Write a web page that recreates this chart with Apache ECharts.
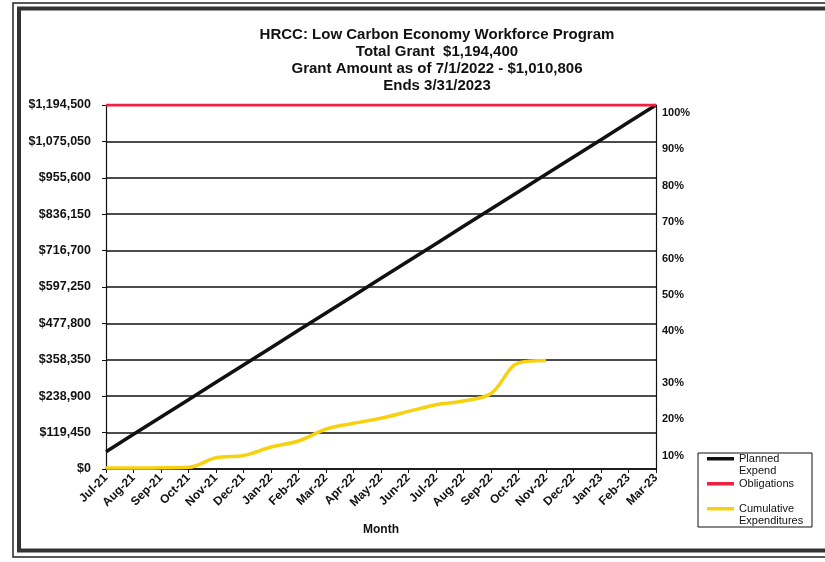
<!DOCTYPE html>
<html>
<head>
<meta charset="utf-8">
<script src="https://cdn.jsdelivr.net/npm/echarts@6/dist/echarts.min.js"></script>
<style>
  html, body { margin: 0; padding: 0; background: #fff; }
  #chart { width: 825px; height: 562px; }
</style>
</head>
<body>
<div id="chart"></div>
<script>
// ---- data ----
const months = ['Jul-21','Aug-21','Sep-21','Oct-21','Nov-21','Dec-21','Jan-22','Feb-22','Mar-22','Apr-22','May-22','Jun-22','Jul-22','Aug-22','Sep-22','Oct-22','Nov-22','Dec-22','Jan-23','Feb-23','Mar-23'];
const plannedExpend = [56881, 113762, 170643, 227524, 284405, 341286, 398167, 455048, 511929, 568810, 625690, 682571, 739452, 796333, 853214, 910095, 966976, 1023857, 1080738, 1137619, 1194500];
const obligations = [1194500, 1194500, 1194500, 1194500, 1194500, 1194500, 1194500, 1194500, 1194500, 1194500, 1194500, 1194500, 1194500, 1194500, 1194500, 1194500, 1194500, 1194500, 1194500, 1194500, 1194500];
const cumulativeExpenditures = [3000, 3000, 4000, 5500, 36700, 44400, 72000, 92000, 131000, 150000, 166600, 189000, 211000, 223000, 247700, 348000, 356000];
const leftTickLabels = ['$0','$119,450','$238,900','$358,350','$477,800','$597,250','$716,700','$836,150','$955,600','$1,075,050','$1,194,500'];
const rightTickLabels = ['', '10%', '20%', '30%', '40%', '50%', '60%', '70%', '80%', '90%', '100%'];
const axisMax = 1194500;
const axisStep = 119450;
const seriesNames = ['Planned Expend', 'Obligations', 'Cumulative Expenditures'];
const titleText = 'HRCC: Low Carbon Economy Workforce Program\nTotal Grant  $1,194,400\nGrant Amount as of 7/1/2022 - $1,010,806\nEnds 3/31/2023';

const FONT = '"Liberation Sans", Arial, sans-serif';
const chart = echarts.init(document.getElementById('chart'), null, { renderer: 'canvas' });

chart.setOption({
  backgroundColor: '#ffffff',
  animation: false,
  title: {
    text: titleText,
    left: 432,
    top: 21,
    textAlign: 'center',
    textStyle: { fontFamily: FONT, fontSize: 15, fontWeight: 'bold', color: '#111', lineHeight: 17 }
  },
  graphic: [
    { type: 'rect', shape: { x: 13, y: 3, width: 830, height: 554 }, style: { fill: 'none', stroke: '#222', lineWidth: 1.5 }, silent: true },
    { type: 'rect', shape: { x: 19, y: 8.5, width: 830, height: 542 }, style: { fill: 'none', stroke: '#333', lineWidth: 4 }, silent: true },
    { type: 'rect', shape: { x: 698, y: 453, width: 114, height: 74 }, style: { fill: 'none', stroke: '#111', lineWidth: 1 }, silent: true }
  ],
  legend: {
    orient: 'vertical',
    left: 707,
    top: 440,
    padding: 0,
    itemGap: 0,
    icon: 'rect',
    itemWidth: 27,
    itemHeight: 3.5,
    data: seriesNames,
    formatter: function (name) {
      const parts = name.split(' ');
      return parts.length > 1 ? ' \n' + parts.join('\n') : name;
    },
    textStyle: { fontFamily: FONT, fontSize: 11, color: '#111', lineHeight: 12.5 }
  },
  grid: { left: 106, right: 169, top: 105, bottom: 93, containLabel: false },
  xAxis: {
    type: 'category',
    data: months,
    boundaryGap: false,
    name: 'Month',
    nameLocation: 'middle',
    nameGap: 55,
    nameTextStyle: { fontFamily: FONT, fontSize: 12, fontWeight: 'bold', color: '#111' },
    axisLine: { show: true, lineStyle: { color: '#111', width: 1.5 } },
    axisTick: { show: true, interval: 0, length: 4, lineStyle: { color: '#111' } },
    axisLabel: { interval: 0, rotate: 45, margin: 7, fontFamily: FONT, fontSize: 12, fontWeight: 'bold', color: '#111' },
    splitLine: { show: false }
  },
  yAxis: [
    {
      type: 'value',
      min: 0,
      max: axisMax,
      interval: axisStep,
      position: 'left',
      axisLine: { show: true, lineStyle: { color: '#111', width: 1.2 } },
      axisTick: { show: true, length: 4, lineStyle: { color: '#111' } },
      axisLabel: {
        margin: 15,
        fontFamily: FONT, fontSize: 12.5, fontWeight: 'bold', color: '#111',
        formatter: function (v) { return leftTickLabels[Math.round(v / axisStep)]; }
      },
      splitLine: { show: true, lineStyle: { color: '#111', width: 1.5 } }
    },
    {
      type: 'value',
      min: 0,
      max: axisMax,
      interval: axisStep,
      position: 'right',
      axisLine: { show: true, lineStyle: { color: '#111', width: 1.2 } },
      axisTick: { show: false },
      axisLabel: {
        margin: 6,
        fontFamily: FONT, fontSize: 11, fontWeight: 'bold', color: '#111',
        formatter: function (v) {
          const k = Math.round(v / axisStep);
          const t = rightTickLabels[k];
          if (!t) return '';
          return k <= 3 ? '{lo|' + t + '}' : '{hi|' + t + '}';
        },
        rich: {
          hi: { fontFamily: FONT, fontSize: 11, fontWeight: 'bold', color: '#111', padding: [16, 0, 0, 0] },
          lo: { fontFamily: FONT, fontSize: 11, fontWeight: 'bold', color: '#111', padding: [46, 0, 0, 0] }
        }
      },
      splitLine: { show: false }
    }
  ],
  series: [
    {
      name: seriesNames[0], type: 'line', data: plannedExpend, symbol: 'none',
      lineStyle: { color: '#111', width: 3.5 }, itemStyle: { color: '#111' }, z: 3
    },
    {
      name: seriesNames[1], type: 'line', data: obligations, symbol: 'none',
      lineStyle: { color: '#f2203f', width: 3 }, itemStyle: { color: '#f2203f' }, z: 4
    },
    {
      name: seriesNames[2], type: 'line', data: cumulativeExpenditures, symbol: 'none', smooth: 0.35,
      lineStyle: { color: '#f7d10f', width: 3.5 }, itemStyle: { color: '#f7d10f' }, z: 5
    }
  ]
});
</script>
</body>
</html>
